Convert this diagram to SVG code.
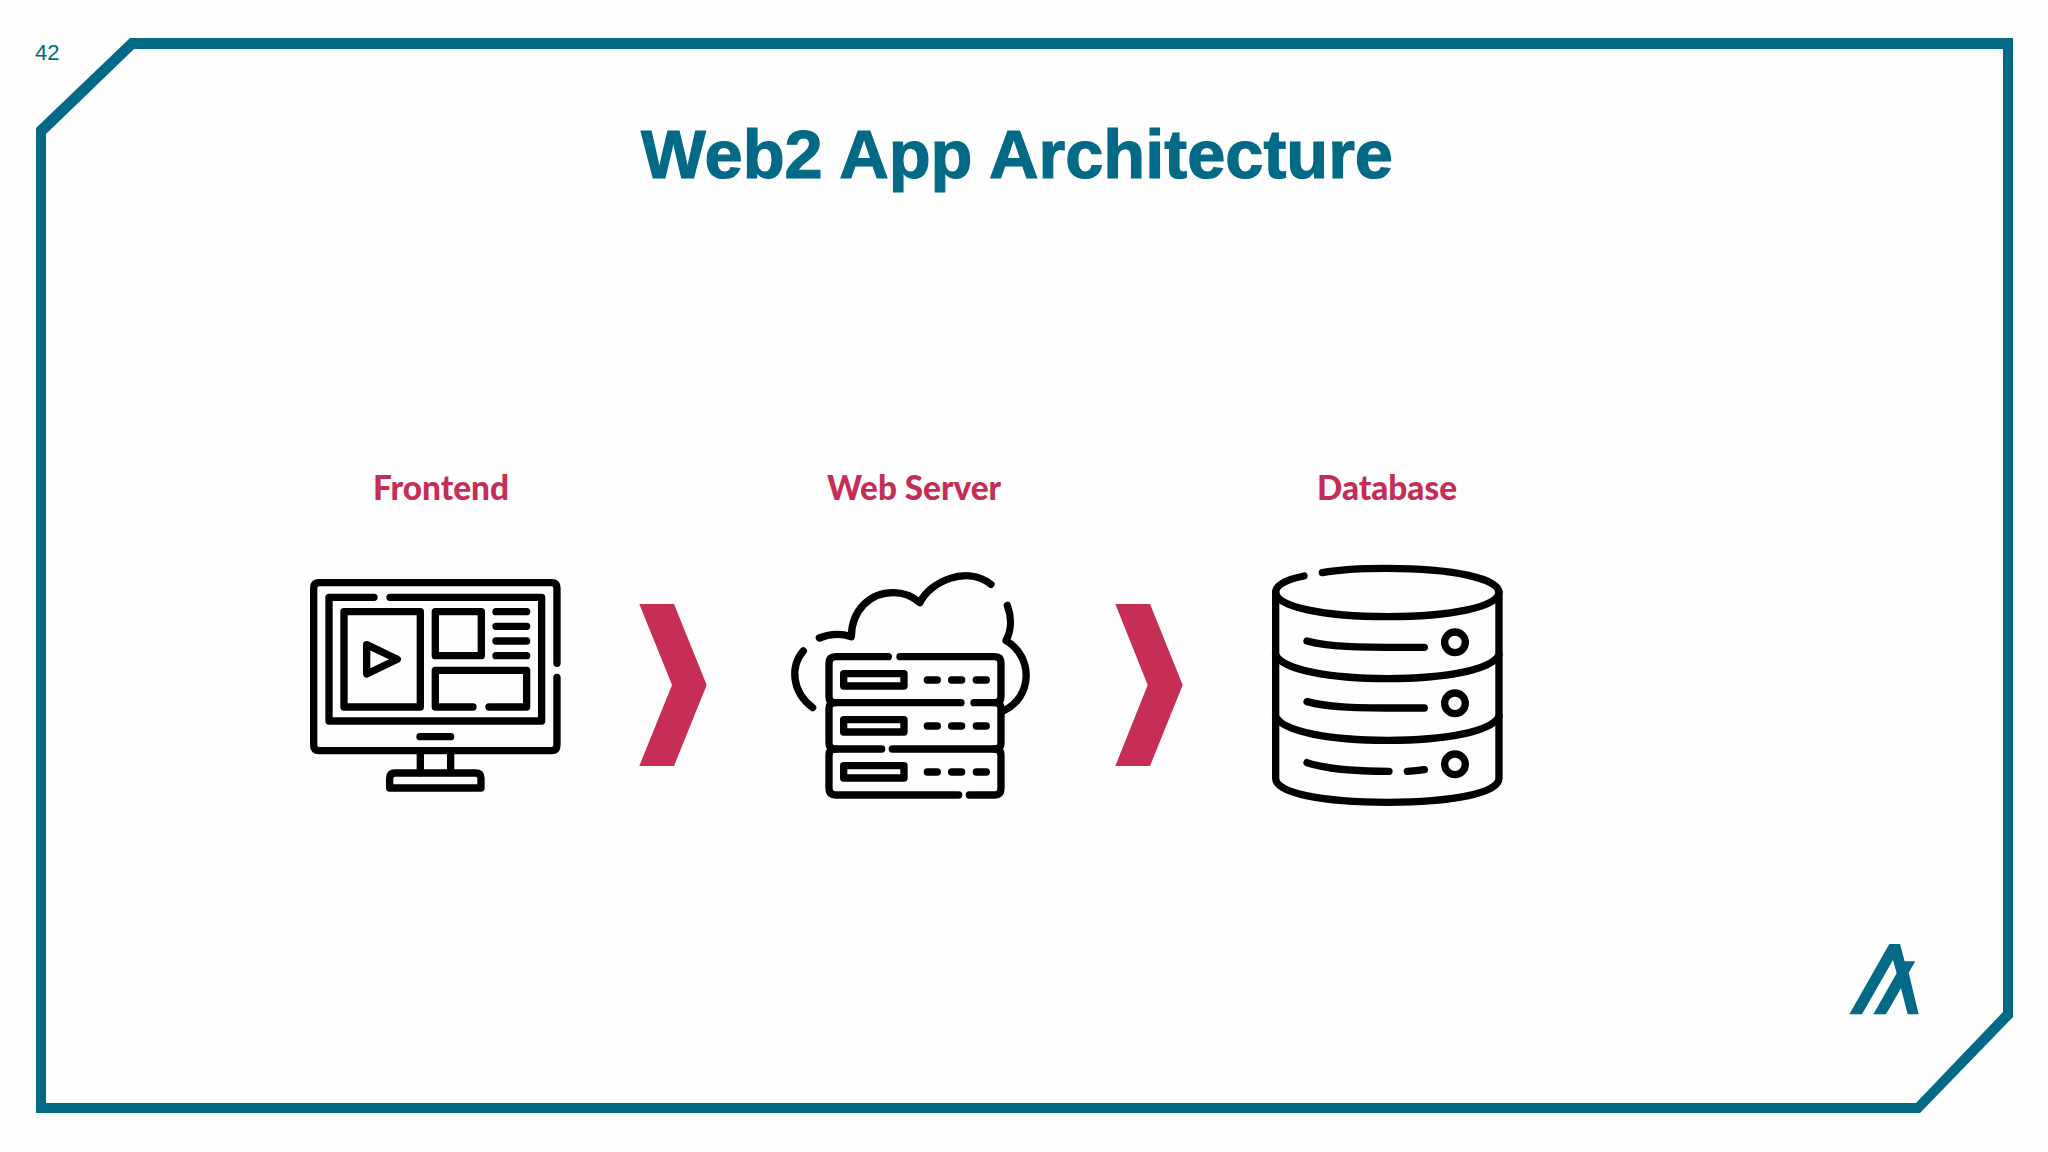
<svg xmlns="http://www.w3.org/2000/svg" width="2048" height="1152" viewBox="0 0 2048 1152">
<style>
.teal{fill:#026a87}
.ic{fill:none;stroke:#000;stroke-width:22;stroke-linecap:round;stroke-linejoin:round}
.lab{font-family:"Lato","Liberation Sans",sans-serif;font-weight:900;font-size:35px;fill:#c42e55}
.chev{fill:#c62e55}
.sans{font-family:"Liberation Sans",Arial,sans-serif}
</style>
<rect width="2048" height="1152" fill="#fefefe"/>
<path class="teal" fill-rule="evenodd" d="M130 38H2013V1017L1920 1113H36V128ZM134 49L46 134V1103H1916L2003 1012V49Z"/>
<text x="35" y="60" class="teal sans" font-size="22">42</text>
<text x="641" y="178" class="teal sans" font-weight="700" font-size="68" stroke="#026a87" stroke-width="1.2" textLength="752" lengthAdjust="spacingAndGlyphs">Web2 App Architecture</text>
<path id="logo" class="teal" transform="translate(1800 920) scale(.3333)" d="M148 283L268 72H300L314 124H346L326 158L356 283H323L303 205L258 283H220L290 160L279 120L186 283Z"/>
<g id="frontend">
<text class="lab" x="373" y="500" textLength="136" lengthAdjust="spacingAndGlyphs">Frontend</text>
<g class="ic" transform="translate(290 450) scale(.3333)">
<path d="M801 640V414Q801 398 785 398H87Q71 398 71 414V885Q71 902 87 902H785Q801 902 801 885V682"/>
<path d="M252 442H117V813H755V442H300"/>
<rect x="162" y="485" width="229" height="286"/>
<rect x="436" y="485" width="138" height="132"/>
<path d="M618 485H710M618 529H710M618 573H710M618 617H710"/>
<path d="M549 771H436V661H710V771H597"/>
<path d="M230 584L322 628L230 672Z"/>
<path d="M390 860H482M391 902V968M482 902V968"/>
<path d="M299 1014V985Q299 969 315 969H557Q573 969 573 985V1014Z"/>
</g>
</g>
<g id="web-server">
<text class="lab" x="827" y="500" textLength="174" lengthAdjust="spacingAndGlyphs">Web Server</text>
<g class="ic" transform="translate(770 450) scale(.3333)">
<path d="M355 620H197Q177 620 177 640V740Q177 758 195 758H573M612 758H675Q693 758 693 740V640Q693 620 675 620H390"/>
<path d="M195 758Q177 758 177 775V880Q177 897 195 897H335M367 897H675Q693 897 693 880V775Q693 758 675 758"/>
<path d="M195 897Q177 897 177 915V1015Q177 1035 197 1035H566M598 1035H675Q693 1035 693 1015V915Q693 897 675 897"/>
<rect x="221" y="671" width="181" height="37"/>
<rect x="221" y="809" width="181" height="37"/>
<rect x="221" y="947" width="181" height="37"/>
<path d="M472 690H502M545 690H575M619 690H649M472 828H502M545 828H575M619 828H649M472 966H502M545 966H575M619 966H649"/>
<path d="M148 564Q195 545 244 560C245 480 300 428 370 428Q415 428 450 458C480 395 590 345 663 403"/>
<path d="M712 466C725 500 725 540 708 572C790 620 790 740 700 783"/>
<path d="M100 603C60 650 65 725 128 773"/>
</g>
</g>
<g id="database">
<text class="lab" x="1317" y="500" textLength="140" lengthAdjust="spacingAndGlyphs">Database</text>
<g class="ic" transform="translate(1240 450) scale(.3333)">
<path d="M192 378C140 388 107 405 107 427C107 470 250 500 442 500C635 500 777 470 777 427C777 385 635 355 442 355C375 355 300 358 247 368"/>
<path d="M107 427V985C107 1030 250 1057 442 1057C635 1057 777 1030 777 985V427"/>
<path d="M107 615C130 660 270 686 442 686C615 686 755 660 777 615"/>
<path d="M107 800C130 845 270 871 442 871C615 871 755 845 777 800"/>
<path d="M201 573C260 590 340 593 553 592M201 755C260 772 340 775 553 774M201 938C260 957 340 964 447 964M502 964Q530 963 553 959"/>
<circle cx="645" cy="577" r="31"/>
<circle cx="645" cy="760" r="31"/>
<circle cx="645" cy="943" r="31"/>
</g>
</g>
<g id="connectors">
<path class="chev" d="M639.3 604H674L706.7 685L674 766H639.3L672 685Z"/>
<path class="chev" d="M1115.3 604H1150L1182.7 685L1150 766H1115.3L1147.7 685Z"/>
</g>
</svg>
